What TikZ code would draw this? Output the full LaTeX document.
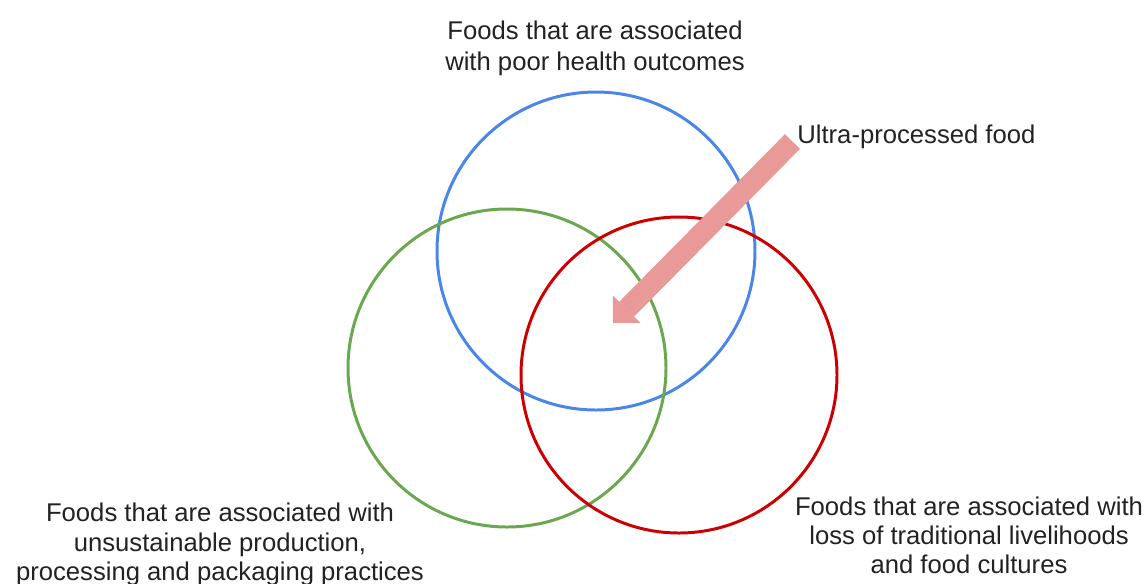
\documentclass[tikz,border=0pt]{standalone}
\usepackage{fontspec}
\setmainfont{Liberation Sans}
\usetikzlibrary{arrows.meta}

\definecolor{vennblue}{HTML}{4A86E8}
\definecolor{venngreen}{HTML}{6AA84F}
\definecolor{vennred}{HTML}{CC0000}
\definecolor{upfpink}{HTML}{EA9999}
\definecolor{textgray}{HTML}{222222}

\tikzset{
  venn/.style={line width=1.7pt},
  venntext/.style={inner sep=0pt, align=center, text=textgray,
    font=\fontsize{14.6pt}{17.4pt}\selectfont},
  bigarrow/.style={draw=upfpink, line width=0.42cm,
    -{Triangle[length=0.39cm, width=0.78cm, line width=0pt]}}
}

\begin{document}
\begin{tikzpicture}[x=0.02cm, y=-0.02cm]
\useasboundingbox (0,0) rectangle (1147,583);

%CIRCLES
\draw [venn, vennblue]  (596, 251) circle (159);
\draw [venn, venngreen] (507, 368) circle (159);
\draw [venn, vennred]   (679, 375) circle (158);

%Labels
\node [venntext, anchor=north] (health) at (595, 21)
  {Foods that are associated\\with poor health outcomes};
\node [venntext, anchor=north, font=\fontsize{14.6pt}{16.6pt}\selectfont] (sustain) at (220, 503)
  {Foods that are associated with\\unsustainable production,\\processing and packaging practices};
\node [venntext, anchor=north, font=\fontsize{14.6pt}{16.4pt}\selectfont] (culture) at (969, 497)
  {Foods that are associated with\\loss of traditional livelihoods\\and food cultures};
\node [venntext, anchor=base west] (upf) at (797, 143) {Ultra-processed food};

%Arrow
\coordinate (upftail) at (792.5, 141.5);
\coordinate (upftip) at (613, 323);
\draw [bigarrow] (upftail) -- (upftip);

\end{tikzpicture}
\end{document}
